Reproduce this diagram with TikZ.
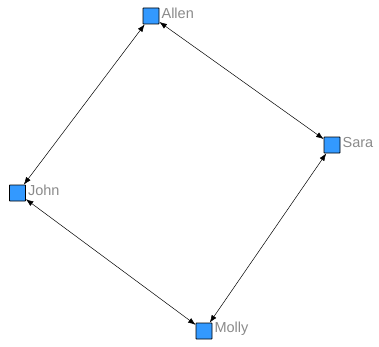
\documentclass[tikz,border=0pt]{standalone}
\usepackage{fontspec}
\setmainfont{Liberation Sans}
\usepackage{xcolor}
\usetikzlibrary{arrows.meta}
\definecolor{nodeblue}{HTML}{3399FF}
\definecolor{namegray}{HTML}{8A8A8A}

\begin{document}
\begin{tikzpicture}[x=1pt, y=1pt,
    person/.style={draw=black, line width=0.8pt, fill=nodeblue, rectangle, minimum size=16pt, inner sep=0pt, rounded corners=0.5pt},
    nametag/.style={text=namegray, font=\fontsize{14.5}{15}\selectfont, inner sep=0pt, anchor=west},
    link/.style={{Latex[length=7.5pt,width=5.5pt]}-{Latex[length=7.5pt,width=5.5pt]}, line width=0.5pt}]
        \useasboundingbox (0,0) rectangle (379,346);

        \node[person] (allen) at (151,330) {};
        \node[person] (sara) at (332,201) {};
        \node[person] (john) at (17.5,153) {};
        \node[person] (molly) at (204,15) {};

        \node[nametag] (allenname) at ([xshift=2pt, yshift=2.5pt]allen.east) {Allen};
        \node[nametag] (saraname) at ([xshift=2pt, yshift=2.5pt]sara.east) {Sara};
        \node[nametag] (johnname) at ([xshift=2pt, yshift=2.5pt]john.east) {John};
        \node[nametag] (mollyname) at ([xshift=2pt, yshift=2.5pt]molly.east) {Molly};

        \draw[link] (allen) -- (sara);
        \draw[link] (sara) -- (molly);
        \draw[link] (molly) -- (john);
        \draw[link] (john) -- (allen);
    \end{tikzpicture}
\end{document}
